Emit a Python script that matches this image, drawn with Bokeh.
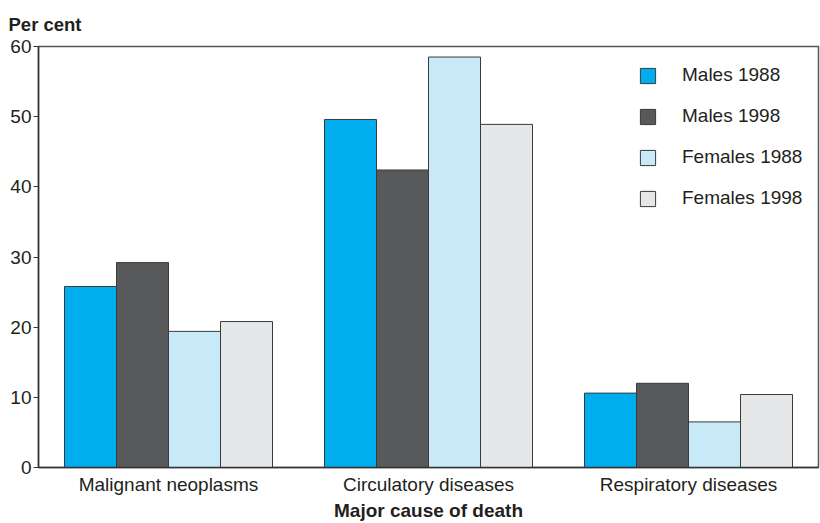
from bokeh.plotting import figure
from bokeh.models import ColumnDataSource, FactorRange, Range1d, Legend, LegendItem
from bokeh.transform import dodge
from bokeh.embed import file_html
from bokeh.resources import INLINE

categories = ["Malignant neoplasms", "Circulatory diseases", "Respiratory diseases"]
males_1988 = [25.8, 49.6, 10.6]
males_1998 = [29.2, 42.4, 12.0]
females_1988 = [19.4, 58.5, 6.5]
females_1998 = [20.8, 48.9, 10.4]
series_names = ["Males 1988", "Males 1998", "Females 1988", "Females 1998"]
series_colors = ["#00AEEF", "#58595B", "#C7E9F8", "#E6E7E8"]
y_ticks = [0, 10, 20, 30, 40, 50, 60]

FONT = "Liberation Sans"
TXT = "#231F20"

src = ColumnDataSource(dict(cat=categories, m88=males_1988, m98=males_1998,
                            f88=females_1988, f98=females_1998))

p = figure(width=820, height=523, x_range=FactorRange(*categories, range_padding=0),
           y_range=Range1d(0, 60), output_backend="svg", toolbar_location=None,
           min_border_left=38, min_border_right=2, min_border_top=46, min_border_bottom=56)

keys = ["m88", "m98", "f88", "f98"]
offsets = [-0.3, -0.1, 0.1, 0.3]
renderers = []
for k, off, col in zip(keys, offsets, series_colors):
    r = p.vbar(x=dodge("cat", off, range=p.x_range), top=k, width=0.2, source=src,
               fill_color=col, line_color="#3a3a3a", line_width=1)
    renderers.append(r)

legend = Legend(items=[LegendItem(label=n, renderers=[r]) for n, r in zip(series_names, renderers)],
                border_line_color=None, background_fill_alpha=0,
                glyph_width=19, glyph_height=19, label_height=19, spacing=19, label_text_font=FONT,
                label_text_font_size="19px", label_text_color=TXT, label_standoff=25,
                margin=0, padding=0)
p.add_layout(legend, "center")
legend.location = (600, 258)

p.title.text = "Per cent"
p.title.text_font = FONT
p.title.text_font_size = "18.5px"
p.title.text_font_style = "bold"
p.title.text_color = TXT
p.title.offset = -30
p.title.standoff = 23

p.xgrid.visible = False
p.ygrid.visible = False
p.outline_line_color = "#555555"
p.outline_line_width = 1.5

p.yaxis.ticker = y_ticks
p.yaxis.minor_tick_line_color = None
p.yaxis.major_tick_in = 0
p.yaxis.major_tick_out = 5
p.yaxis.major_label_text_font = FONT
p.yaxis.major_label_text_font_size = "19px"
p.yaxis.major_label_text_color = TXT
p.yaxis.axis_line_color = "#333333"
p.yaxis.axis_line_width = 1.5
p.yaxis.major_tick_line_color = "#333333"
p.yaxis.major_label_standoff = 2

p.xaxis.axis_label = "Major cause of death"
p.xaxis.axis_label_text_font = FONT
p.xaxis.axis_label_text_font_size = "19px"
p.xaxis.axis_label_text_font_style = "bold"
p.xaxis.axis_label_text_color = TXT
p.xaxis.axis_label_standoff = 2
p.xaxis.major_tick_line_color = None
p.xaxis.minor_tick_line_color = None
p.xaxis.major_label_text_font = FONT
p.xaxis.major_label_text_font_size = "19px"
p.xaxis.major_label_text_color = TXT
p.xaxis.major_label_standoff = 0
p.xaxis.axis_line_color = "#333333"
p.xaxis.axis_line_width = 1.5

open("out.html", "w").write(file_html(p, INLINE))
